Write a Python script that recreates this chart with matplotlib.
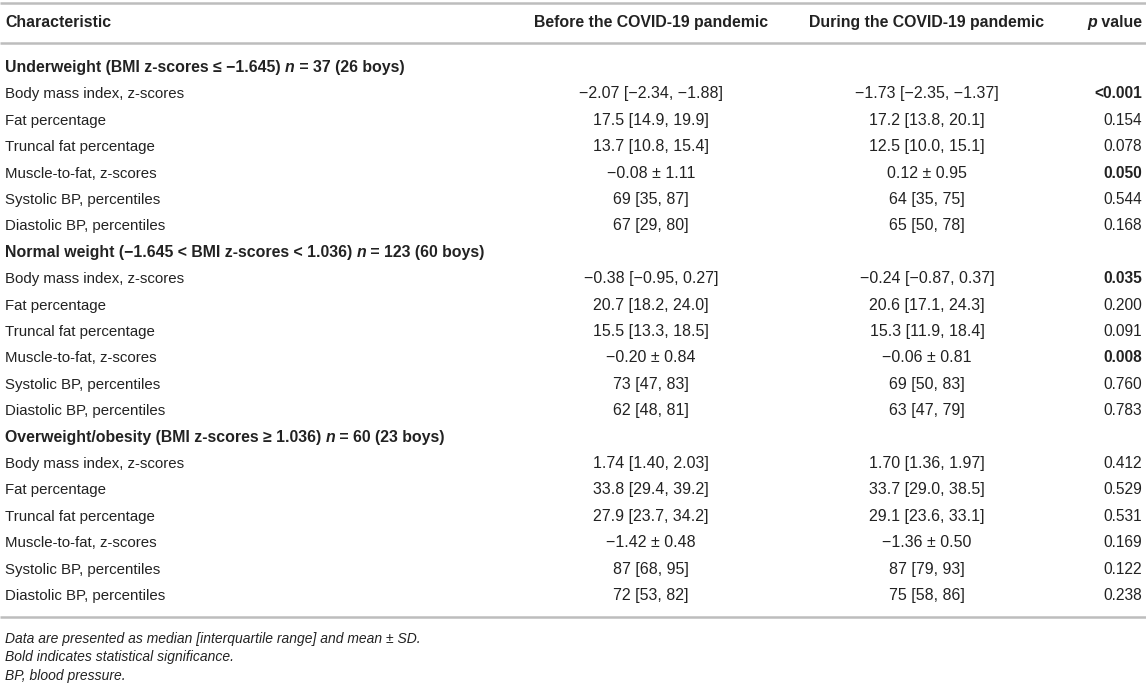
import matplotlib
matplotlib.use("Agg")
import matplotlib.pyplot as plt

plt.rcParams['font.family'] = ['Liberation Sans', 'DejaVu Sans']

# table content
col_headers = ["Characteristic", "Before the COVID-19 pandemic", "During the COVID-19 pandemic"]

section_titles = [
    "Underweight (BMI z-scores \u2264 \u22121.645)",
    "Normal weight (\u22121.645 < BMI z-scores < 1.036)",
    "Overweight/obesity (BMI z-scores \u2265 1.036)",
]
section_counts = [" = 37 (26 boys)", " = 123 (60 boys)", " = 60 (23 boys)"]

row_labels = [
    "Body mass index, z-scores",
    "Fat percentage",
    "Truncal fat percentage",
    "Muscle-to-fat, z-scores",
    "Systolic BP, percentiles",
    "Diastolic BP, percentiles",
]

before_values = [
    ["\u22122.07 [\u22122.34, \u22121.88]", "17.5 [14.9, 19.9]", "13.7 [10.8, 15.4]",
     "\u22120.08 \u00b1 1.11", "69 [35, 87]", "67 [29, 80]"],
    ["\u22120.38 [\u22120.95, 0.27]", "20.7 [18.2, 24.0]", "15.5 [13.3, 18.5]",
     "\u22120.20 \u00b1 0.84", "73 [47, 83]", "62 [48, 81]"],
    ["1.74 [1.40, 2.03]", "33.8 [29.4, 39.2]", "27.9 [23.7, 34.2]",
     "\u22121.42 \u00b1 0.48", "87 [68, 95]", "72 [53, 82]"],
]
during_values = [
    ["\u22121.73 [\u22122.35, \u22121.37]", "17.2 [13.8, 20.1]", "12.5 [10.0, 15.1]",
     "0.12 \u00b1 0.95", "64 [35, 75]", "65 [50, 78]"],
    ["\u22120.24 [\u22120.87, 0.37]", "20.6 [17.1, 24.3]", "15.3 [11.9, 18.4]",
     "\u22120.06 \u00b1 0.81", "69 [50, 83]", "63 [47, 79]"],
    ["1.70 [1.36, 1.97]", "33.7 [29.0, 38.5]", "29.1 [23.6, 33.1]",
     "\u22121.36 \u00b1 0.50", "87 [79, 93]", "75 [58, 86]"],
]
p_values = [
    ["<0.001", "0.154", "0.078", "0.050", "0.544", "0.168"],
    ["0.035", "0.200", "0.091", "0.008", "0.760", "0.783"],
    ["0.412", "0.529", "0.531", "0.169", "0.122", "0.238"],
]
significant = [
    [True, False, False, True, False, False],
    [True, False, False, True, False, False],
    [False, False, False, False, False, False],
]

footnotes = [
    "Data are presented as median [interquartile range] and mean \u00b1 SD.",
    "Bold indicates statistical significance.",
    "BP, blood pressure.",
]

W, H = 1146, 686
FS_LABEL = 10.8
FS_VAL = 11.5
FS_BOLD = 11.4
FS_P = 11.2
FS_NOTE = 10.0
TXT = "#222222"
LINE = "#bdbdbd"
BASE = 5.0  # offset from row centre to text baseline, px

fig = plt.figure(figsize=(W / 100, H / 100), dpi=100)
ax = fig.add_axes([0, 0, 1, 1])
ax.set_xlim(0, W)
ax.set_ylim(H, 0)
ax.axis("off")
renderer = fig.canvas.get_renderer()

x_label = 5
x_before = 651
x_during = 927
x_p = 1142


def put(x, y, s, ha="left", **kw):
    kw.setdefault("color", TXT)
    return ax.text(x, y + BASE, s, va="baseline", ha=ha, **kw)


def seg_text(x, y, parts):
    # draw consecutive bold text pieces, some italic
    for s, style in parts:
        t = put(x, y, s, fontsize=FS_BOLD, fontweight="bold", fontstyle=style)
        x += t.get_window_extent(renderer=renderer).width


# rules
for yl in (3, 43, 617):
    ax.plot([0, W], [yl, yl], color=LINE, lw=1.8, solid_capstyle="butt")

# header
y_head = 22
put(x_label, y_head, col_headers[0], fontsize=FS_BOLD, fontweight="bold")
put(x_before, y_head, col_headers[1], ha="center", fontsize=FS_BOLD, fontweight="bold")
put(x_during, y_head, col_headers[2], ha="center", fontsize=FS_BOLD, fontweight="bold")
t = put(x_p, y_head, " value", ha="right", fontsize=FS_BOLD, fontweight="bold")
bb = t.get_window_extent(renderer=renderer)
put(x_p - bb.width, y_head, "p", ha="right", fontsize=FS_BOLD, fontweight="bold", fontstyle="italic")

# body
y0 = 67
step = 26.4
line = 0
for si in range(len(section_titles)):
    y = y0 + line * step
    seg_text(x_label, y, [(section_titles[si] + " ", "normal"), ("n", "italic"),
                          (section_counts[si], "normal")])
    line += 1
    for ri, lab in enumerate(row_labels):
        y = y0 + line * step
        put(x_label, y, lab, fontsize=FS_LABEL)
        put(x_before, y, before_values[si][ri], ha="center", fontsize=FS_VAL)
        put(x_during, y, during_values[si][ri], ha="center", fontsize=FS_VAL)
        put(x_p, y, p_values[si][ri], ha="right", fontsize=FS_P,
            fontweight="bold" if significant[si][ri] else "normal")
        line += 1

# footnotes
for i, note in enumerate(footnotes):
    put(x_label, 638 + i * 18.5, note, fontsize=FS_NOTE, fontstyle="italic")

fig.savefig("out.png", dpi=100)
